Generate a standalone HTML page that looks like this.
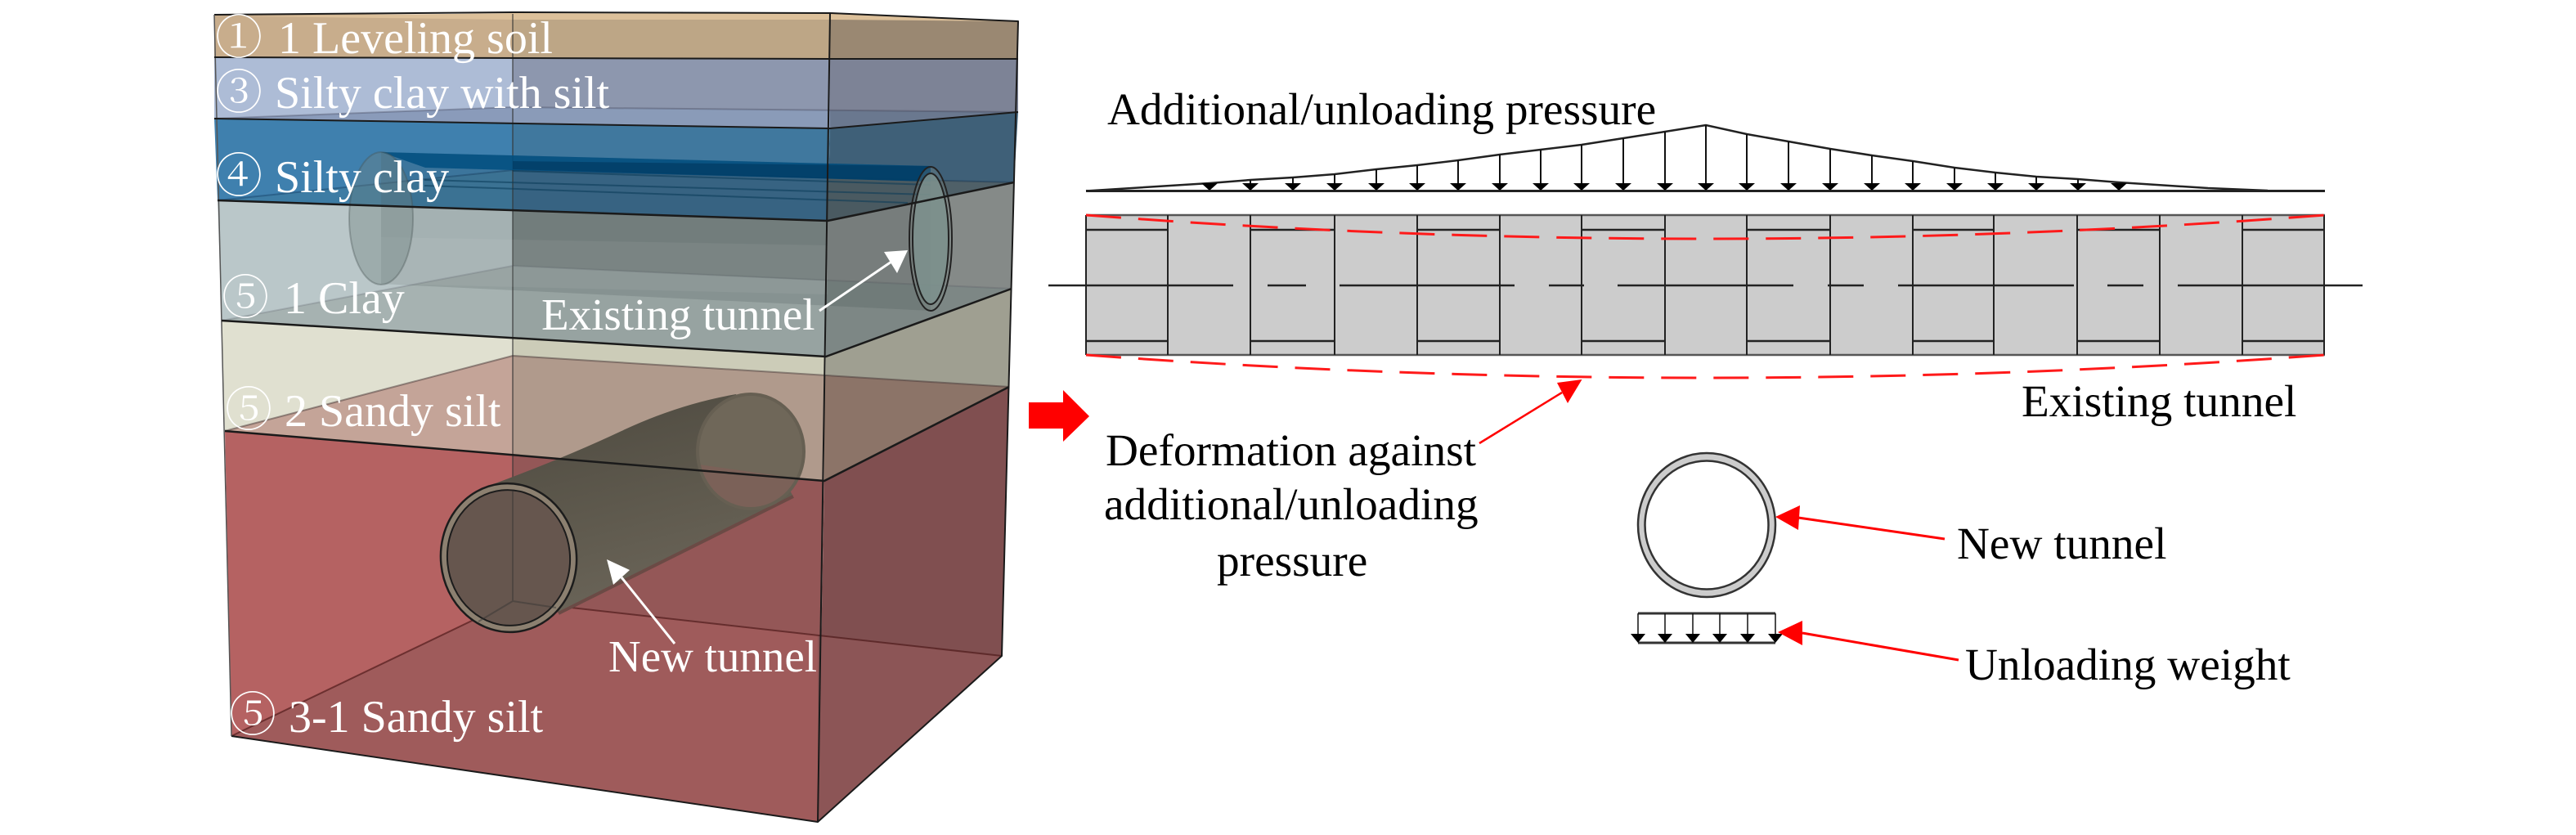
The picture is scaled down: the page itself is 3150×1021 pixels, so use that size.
<!DOCTYPE html>
<html>
<head>
<meta charset="utf-8">
<title>Tunnel diagram</title>
<style>
html,body{margin:0;padding:0;background:#fff;}
svg{display:block;}
text{font-family:"Liberation Serif","Noto Serif CJK SC",serif;text-rendering:geometricPrecision;}
.w{fill:#fff;font-size:56px;}
.c{fill:#fff;font-size:58px;font-family:"Noto Serif CJK SC","Liberation Serif",serif;}
.k{fill:#000;font-size:55.3px;}
</style>
</head>
<body>
<svg width="3150" height="1021" viewBox="0 0 3150 1021" xmlns="http://www.w3.org/2000/svg">
<rect width="3150" height="1021" fill="#fff"/>
<defs>
<linearGradient id="nb" x1="0.25" y1="0" x2="0.6" y2="1">
<stop offset="0" stop-color="#4f4b41"/><stop offset=".55" stop-color="#5f5a4e"/><stop offset="1" stop-color="#6c665a"/>
</linearGradient>
<clipPath id="fl"><polygon points="840,566 1010,590 1010,650 840,650"/></clipPath>
</defs>

<!-- left zones -->
<polygon fill="#c8ad8c" points="262,18 627,17 627,71 262,70"/>
<polygon fill="#adbcd6" points="262,70 627,71 627,151 262,145"/>
<polygon fill="#3f80ae" points="262,145 627,151 627,257 266,245"/>
<polygon fill="#bac7c9" points="266,245 627,257 627,413 271,392"/>
<polygon fill="#e0e0d0" points="271,392 627,413 627,556 275,527"/>
<polygon fill="#b56262" points="275,527 627,556 627,950 283,900"/>
<!-- mid zones -->
<polygon fill="#bda686" points="627,17 1015,16 1015,72 627,71"/>
<polygon fill="#8d97ae" points="627,71 1015,72 1015,157 627,151"/>
<polygon fill="#40789e" points="627,151 1015,157 1012,270 627,257"/>
<polygon fill="#7f8a88" points="627,257 1012,270 1010,436 627,413"/>
<polygon fill="#ccccb8" points="627,413 1010,436 1008,588 627,556"/>
<polygon fill="#945757" points="627,556 1008,588 1000,1005 627,950"/>
<!-- right zones -->
<polygon fill="#9a8872" points="1015,16 1245,26 1245,72 1015,72"/>
<polygon fill="#7d8396" points="1015,72 1245,72 1245,137 1015,157"/>
<polygon fill="#3f6078" points="1015,157 1245,137 1240,223 1012,270"/>
<polygon fill="#858a88" points="1012,270 1240,223 1237,353 1010,436"/>
<polygon fill="#9f9f91" points="1010,436 1237,353 1234,473 1008,588"/>
<polygon fill="#804f50" points="1008,588 1234,473 1225,802 1000,1005"/>

<!-- surfaces -->
<polygon fill="#dcc09a" points="300,20 627,16 1015,17 1245,26 1015,24 627,24"/>
<polygon fill="#8a9bba" points="262,145 627,131 627,151"/>
<polygon fill="#8a9bb8" points="627,131 1015,135 1015,157 627,151"/>
<polygon fill="#6a788f" points="1015,135 1245,137 1015,157"/>
<polygon fill="#3d7ca4" points="266,245 627,208 627,257"/>
<polygon fill="#386b8f" points="627,208 1012,217 1012,270 627,257"/>
<polygon fill="#4f6068" points="1012,217 1240,223 1012,270"/>
<polygon fill="#a6b2b1" points="271,392 627,325 627,413"/>
<polygon fill="#97a3a1" points="627,325 1010,343 1010,436 627,413"/>
<polygon fill="#7d8785" points="1010,343 1237,353 1010,436"/>
<polygon fill="#c4a498" points="275,527 627,435 627,556"/>
<polygon fill="#b09a8c" points="627,435 1008,459 1008,588 627,556"/>
<polygon fill="#8c7468" points="1008,459 1234,473 1008,588"/>
<polygon fill="#9f5b5b" points="283,900 627,735 627,950"/>
<polygon fill="#9f5b5b" points="627,735 1000,777 1000,1005 627,950"/>
<polygon fill="#8c5556" points="1000,777 1225,802 1000,1005"/>

<!-- back lines -->
<g fill="none" stroke-linejoin="round">
<path d="M627 17V735" stroke="#333" stroke-opacity=".55" stroke-width="2"/>
<path d="M262 145L627 131L1245 137" stroke="#334" stroke-opacity=".3" stroke-width="2"/>
<path d="M266 245L627 208L1240 223" stroke="#024" stroke-opacity=".3" stroke-width="2"/>
<path d="M271 392L627 325L1237 353" stroke="#445" stroke-opacity=".2" stroke-width="2"/>
<path d="M275 527L627 435L1234 473" stroke="#433" stroke-opacity=".5" stroke-width="2"/>
<path d="M283 900L627 735L1225 802" stroke="#411" stroke-opacity=".6" stroke-width="2"/>
</g>

<!-- existing tunnel -->
<polygon fill="#2f3e3c" fill-opacity=".16" points="466,186 1138,203 1138,380 466,347"/>
<polygon fill="#fff" fill-opacity=".06" points="466,290 1012,300 1012,360 466,347"/>
<polygon fill="#004f80" fill-opacity=".85" points="466,186 1138,203 1138,222 520,205"/>
<polygon fill="#00365c" fill-opacity=".6" points="627,197 1138,203 1138,222 627,207"/>
<path d="M519 220L1137 238M519 227L1110 248M627 209L1138 226" fill="none" stroke="#0a3a58" stroke-width="2" stroke-opacity=".55"/>
<ellipse cx="466" cy="267" rx="39" ry="81" fill="#6e827d" fill-opacity=".38" stroke="#45514f" stroke-opacity=".35" stroke-width="2"/>
<ellipse cx="1138" cy="292" rx="26" ry="88" fill="#7d8a88" fill-opacity=".3" stroke="#222" stroke-width="2"/>
<ellipse cx="1138" cy="292" rx="22" ry="80" fill="#7d908d" fill-opacity=".85" stroke="#222" stroke-width="2"/>

<!-- new tunnel -->
<path fill="url(#nb)" d="M603 592Q690 560 760 527T900 482L970 607L683 750Z"/>
<path d="M683 750L970 607" fill="none" stroke="#6b4a45" stroke-width="4"/>
<ellipse cx="918" cy="552" rx="65" ry="70" fill="#6f6759" stroke="#665f52" stroke-width="4"/>
<ellipse cx="918" cy="552" rx="63" ry="68" fill="#7b6158" clip-path="url(#fl)"/>
<ellipse cx="622" cy="682" rx="83" ry="91" transform="rotate(-6 622 682)" fill="#8c8070" stroke="#1c1c1c" stroke-width="2.5"/>
<ellipse cx="622" cy="682" rx="75" ry="83" transform="rotate(-6 622 682)" fill="#66564e" stroke="#1c1c1c" stroke-width="2"/>
<path d="M627 600V735L585 760M627 735L680 743" fill="none" stroke="#333" stroke-opacity=".45" stroke-width="2"/>

<!-- front lines -->
<g fill="none" stroke="#1a1a1a" stroke-linejoin="round">
<path d="M262 18L627 15L1015 16L1245 26L1225 802L1000 1005L283 900" stroke-width="2"/>
<path d="M262 18L283 900" stroke="#555" stroke-width="1.5"/>
<path d="M1015 16L1000 1005" stroke-width="2"/>
<path d="M262 70L1015 72L1245 72" stroke-width="2"/>
<path d="M262 145L1015 157L1245 137" stroke-width="2"/>
<path d="M266 245L1012 270L1240 223" stroke-width="2.5"/>
<path d="M271 392L1010 436L1237 353" stroke-width="2.5"/>
<path d="M275 527L1008 588L1234 473" stroke-width="2.5"/>
</g>

<!-- white arrows -->
<path d="M1002 380L1090 320" stroke="#fff" stroke-width="3"/>
<polygon fill="#fff" points="1110,306 1081,308 1097,334"/>
<path d="M825 787L760 706" stroke="#fff" stroke-width="3"/>
<polygon fill="#fff" points="742,684 770,697 750,715"/>

<!-- left labels -->
<text class="c" x="263" y="66">①</text><text class="w" x="340" y="65">1 Leveling soil</text>
<text class="c" x="263" y="133">③</text><text class="w" x="336" y="132">Silty clay with silt</text>
<text class="c" x="263" y="235">④</text><text class="w" x="336" y="235">Silty clay</text>
<text class="c" x="271" y="384">⑤</text><text class="w" x="347" y="383">1 Clay</text>
<text class="c" x="275" y="521">⑤</text><text class="w" x="348" y="521">2 Sandy silt</text>
<text class="c" x="280" y="894">⑤</text><text class="w" x="353" y="895">3-1 Sandy silt</text>
<text class="w" x="662" y="403" style="font-size:55px">Existing tunnel</text>
<text class="w" x="744" y="821" style="font-size:55px">New tunnel</text>

<!-- big red arrow -->
<polygon fill="#ff0000" points="1258,492 1300,492 1300,477 1332,509 1300,540 1300,524 1258,524"/>

<!-- load -->
<text class="k" x="1354" y="152">Additional/unloading pressure</text>
<path d="M1328 233.5L1479 224L1529 220L1581 217L1632 213L1683 207L1733 202L1783 196L1834 189L1884 183L1934 177L1985 169L2036 161L2086 153L2136 164L2187 173L2238 182L2289 190L2339 197L2390 205L2440 211L2490 216L2541 219L2591 223L2700 230L2773 233" fill="none" stroke="#222" stroke-width="2.5"/>
<path d="M1328 233.5H2843" fill="none" stroke="#222" stroke-width="3"/>
<path d="M1529 220V225M1581 217V225M1632 213V225M1683 207V225M1733 202V225M1783 196V225M1834 189V225M1884 183V225M1934 177V225M1985 169V225M2036 161V225M2086 153V225M2136 164V225M2187 173V225M2238 182V225M2289 190V225M2339 197V225M2390 205V225M2440 211V225M2490 216V225M2541 219V225" fill="none" stroke="#111" stroke-width="2"/>
<path fill="#000" d="M1469 224h20l-10 9zM1519 224h20l-10 9zM1571 224h20l-10 9zM1622 224h20l-10 9zM1673 224h20l-10 9zM1723 224h20l-10 9zM1773 224h20l-10 9zM1824 224h20l-10 9zM1874 224h20l-10 9zM1924 224h20l-10 9zM1975 224h20l-10 9zM2026 224h20l-10 9zM2076 224h20l-10 9zM2126 224h20l-10 9zM2177 224h20l-10 9zM2228 224h20l-10 9zM2279 224h20l-10 9zM2329 224h20l-10 9zM2380 224h20l-10 9zM2430 224h20l-10 9zM2480 224h20l-10 9zM2531 224h20l-10 9zM2581 224h20l-10 9z"/>

<!-- existing tunnel elevation -->
<rect x="1328" y="263" width="1515" height="171" fill="#cccccc"/>
<path d="M1328 263H2843M1328 434H2843" fill="none" stroke="#555" stroke-width="2.5"/>
<path d="M1328 263V434M1428 263V434M1529 263V434M1632 263V434M1733 263V434M1834 263V434M1934 263V434M2036 263V434M2136 263V434M2238 263V434M2339 263V434M2438 263V434M2540 263V434M2641 263V434M2742 263V434M2842 263V434" fill="none" stroke="#222" stroke-width="2"/>
<path d="M1328 281H1428M1529 281H1632M1733 281H1834M1934 281H2036M2136 281H2238M2339 281H2438M2540 281H2641M2742 281H2842M1328 417H1428M1529 417H1632M1733 417H1834M1934 417H2036M2136 417H2238M2339 417H2438M2540 417H2641M2742 417H2842" fill="none" stroke="#222" stroke-width="2.5"/>
<path d="M1282 349H1508M1550 349H1597M1638 349H1852M1894 349H1937M1978 349H2193M2235 349H2279M2321 349H2536M2577 349H2621M2663 349H2889" fill="none" stroke="#222" stroke-width="2.5"/>

<!-- deformation -->
<path d="M1328 263Q2086 321 2843 263" fill="none" stroke="#ff1a1a" stroke-width="3" stroke-dasharray="43 21"/>
<path d="M1328 434Q2086 490 2843 434" fill="none" stroke="#ff1a1a" stroke-width="3" stroke-dasharray="43 21"/>
<text class="k" x="2472" y="509">Existing tunnel</text>

<!-- deformation leader -->
<path d="M1809 542L1910 480" stroke="#f00" stroke-width="2.5"/>
<polygon fill="#f00" points="1934.5,464 1904,468 1917,493"/>
<text class="k" x="1352" y="569">Deformation against</text>
<text class="k" x="1350" y="635">additional/unloading</text>
<text class="k" x="1488" y="704">pressure</text>

<!-- new tunnel section -->
<ellipse cx="2087" cy="642" rx="84" ry="88" fill="#ccc" stroke="#333" stroke-width="2.5"/>
<ellipse cx="2087" cy="642" rx="75.5" ry="78.5" fill="#fff" stroke="#333" stroke-width="2.5"/>
<path d="M2003 750H2171M2003 786H2171" fill="none" stroke="#333" stroke-width="3"/>
<path d="M2003 750V777M2036 750V777M2070 750V777M2103 750V777M2137 750V777M2171 750V777" fill="none" stroke="#111" stroke-width="1.5"/>
<path fill="#000" d="M1994 775h18l-9 11zM2027 775h18l-9 11zM2061 775h18l-9 11zM2094 775h18l-9 11zM2128 775h18l-9 11zM2162 775h18l-9 11z"/>

<path d="M2378 659L2199 633" stroke="#f00" stroke-width="3"/>
<polygon fill="#f00" points="2171,632 2201,618 2199,648"/>
<path d="M2395 807L2204 774" stroke="#f00" stroke-width="3"/>
<polygon fill="#f00" points="2174,773 2204,759 2204,789"/>
<text class="k" x="2393" y="683">New tunnel</text>
<text class="k" x="2403" y="831">Unloading weight</text>
</svg>
</body>
</html>
